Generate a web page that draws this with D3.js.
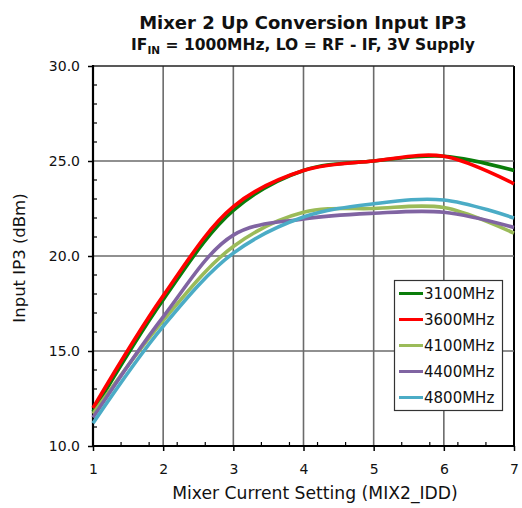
<!DOCTYPE html>
<html><head><meta charset="utf-8">
<script src="https://cdn.jsdelivr.net/npm/d3@7"></script>
<style>html,body{margin:0;padding:0;background:#fff;}svg{display:block;font-family:"DejaVu Sans",Verdana,sans-serif;}</style>
</head><body><svg id="c" width="522" height="508"></svg>
<script>
const settings = [1, 2, 3, 4, 5, 6, 7];
const seriesNames = ["3100MHz", "3600MHz", "4100MHz", "4400MHz", "4800MHz"];
const s3100 = [11.8, 17.7, 22.4, 24.5, 25.0, 25.25, 24.5];
const s3600 = [12.0, 17.9, 22.6, 24.5, 25.0, 25.25, 23.8];
const s4100 = [11.7, 16.6, 20.5, 22.3, 22.5, 22.55, 21.2];
const s4400 = [11.5, 16.8, 21.1, 21.95, 22.25, 22.3, 21.5];
const s4800 = [11.2, 16.3, 20.15, 22.05, 22.75, 22.95, 22.0];
const colors = ["#0a7d0a", "#ff0000", "#9bbb59", "#8064a2", "#4bacc6"];
const yTicks = [10, 15, 20, 25, 30];
const xTicks = [1, 2, 3, 4, 5, 6, 7];

const allSeries = [s3100, s3600, s4100, s4400, s4800];
const svg = d3.select("#c");
const FONT = "'DejaVu Sans', Verdana, sans-serif";
const L = 93, R = 514, T = 66, B = 446;
const x = d3.scaleLinear().domain([1, 7]).range([L, R]);
const y = d3.scaleLinear().domain([10, 30]).range([B, T]);

// grid
const g = svg.append("g");
g.selectAll(".vg").data(xTicks.slice(1)).enter().append("line")
  .attr("x1", d => x(d)).attr("x2", d => x(d)).attr("y1", T).attr("y2", B)
  .attr("stroke", d => d === 7 ? "#000" : "#6b6b6b").attr("stroke-width", d => d === 7 ? 2 : 1.6);
g.selectAll(".hg").data(yTicks.slice(1)).enter().append("line")
  .attr("x1", L).attr("x2", R).attr("y1", d => y(d)).attr("y2", d => y(d))
  .attr("stroke", d => d === 30 ? "#222" : "#6b6b6b").attr("stroke-width", 1.6);

// minor ticks
const yMinor = d3.range(11, 30).filter(v => v % 5 !== 0);
g.selectAll(".ym").data(yMinor).enter().append("line")
  .attr("x1", L).attr("x2", L + 4).attr("y1", d => y(d)).attr("y2", d => y(d))
  .attr("stroke", "#000").attr("stroke-width", 1.2);
const xMinor = d3.range(1.4, 7, 0.4).filter(v => Math.abs(v - Math.round(v)) > 0.05);
g.selectAll(".xm").data(xMinor).enter().append("line")
  .attr("x1", d => x(d)).attr("x2", d => x(d)).attr("y1", B).attr("y2", B - 4)
  .attr("stroke", "#000").attr("stroke-width", 1.2);

// axes
const yAxis = d3.axisLeft(y).tickValues(yTicks).tickFormat(d3.format(".1f")).tickSize(5).tickPadding(8);
const ya = svg.append("g").attr("transform", `translate(${L},0)`).call(yAxis);
const xAxis = d3.axisBottom(x).tickValues(xTicks).tickFormat(d3.format("d")).tickSize(5).tickPadding(13);
const xa = svg.append("g").attr("transform", `translate(0,${B})`).call(xAxis);
[ya, xa].forEach(a => {
  a.select(".domain").remove();
  a.selectAll(".tick line").attr("stroke", "#000").attr("stroke-width", 1.5);
  a.selectAll("text").attr("font-size", 14).attr("fill", "#111").attr("font-family", FONT);
});
svg.append("line").attr("x1", L).attr("x2", L).attr("y1", T - 1).attr("y2", B + 1).attr("stroke", "#000").attr("stroke-width", 2.2);
svg.append("line").attr("x1", L - 1).attr("x2", R + 1).attr("y1", B).attr("y2", B).attr("stroke", "#000").attr("stroke-width", 2.2);

// lines
const line = d3.line().x((d, i) => x(settings[i])).y(d => y(d)).curve(d3.curveCatmullRom.alpha(0.5));
svg.append("g").selectAll("path").data(allSeries).enter().append("path")
  .attr("d", d => line(d)).attr("fill", "none")
  .attr("stroke", (d, i) => colors[i]).attr("stroke-width", 3.6).attr("stroke-linejoin", "round");

// legend
const lg = svg.append("g");
lg.append("rect").attr("x", 394.5).attr("y", 280.5).attr("width", 108).attr("height", 130)
  .attr("fill", "#fff").attr("stroke", "#333").attr("stroke-width", 1.2);
seriesNames.forEach((n, i) => {
  const yy = 293.5 + i * 26;
  lg.append("line").attr("x1", 399).attr("x2", 423).attr("y1", yy).attr("y2", yy)
    .attr("stroke", colors[i]).attr("stroke-width", 3);
  lg.append("text").attr("x", 424).attr("y", yy + 5.5).attr("font-size", 15).attr("fill", "#111").text(n);
});

// titles
svg.append("text").attr("x", 303).attr("y", 29).attr("text-anchor", "middle")
  .attr("font-size", 18).attr("font-weight", "bold").attr("fill", "#111").text("Mixer 2 Up Conversion Input IP3");
const st = svg.append("text").attr("x", 303).attr("y", 50).attr("text-anchor", "middle")
  .attr("font-size", 15.5).attr("font-weight", "bold").attr("fill", "#111");
st.append("tspan").text("IF");
st.append("tspan").attr("font-size", 10.5).attr("dy", 4).text("IN");
st.append("tspan").attr("dy", -4).text(" = 1000MHz, LO = RF - IF, 3V Supply");

svg.append("text").attr("x", 315).attr("y", 499).attr("text-anchor", "middle")
  .attr("font-size", 17.2).attr("fill", "#111").text("Mixer Current Setting (MIX2_IDD)");
svg.append("text").attr("transform", "translate(25,258) rotate(-90)").attr("text-anchor", "middle")
  .attr("font-size", 16.5).attr("fill", "#111").text("Input IP3 (dBm)");
</script></body></html>
